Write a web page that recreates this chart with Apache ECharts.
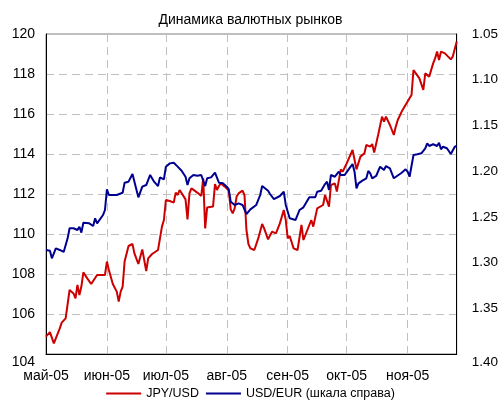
<!DOCTYPE html>
<html>
<head>
<meta charset="utf-8">
<script src="https://cdn.jsdelivr.net/npm/echarts@6/dist/echarts.min.js"></script>
<style>html,body{margin:0;padding:0;background:#fff}#c{width:501px;height:401px}</style>
</head>
<body>
<div id="c"></div>
<script>
var jpyDates = ['2005-05-01','2005-05-03','2005-05-04','2005-05-05','2005-05-06','2005-05-07','2005-05-08','2005-05-09','2005-05-10','2005-05-11','2005-05-13','2005-05-14','2005-05-15','2005-05-16','2005-05-17','2005-05-18','2005-05-19','2005-05-20','2005-05-22','2005-05-24','2005-05-27','2005-05-29','2005-05-31','2005-06-01','2005-06-02','2005-06-04','2005-06-06','2005-06-07','2005-06-08','2005-06-09','2005-06-10','2005-06-12','2005-06-14','2005-06-15','2005-06-17','2005-06-19','2005-06-21','2005-06-22','2005-06-24','2005-06-27','2005-06-29','2005-06-30','2005-07-01','2005-07-03','2005-07-05','2005-07-06','2005-07-07','2005-07-08','2005-07-11','2005-07-12','2005-07-13','2005-07-14','2005-07-17','2005-07-19','2005-07-20','2005-07-21','2005-07-22','2005-07-25','2005-07-26','2005-07-27','2005-07-28','2005-07-29','2005-07-31','2005-08-02','2005-08-03','2005-08-04','2005-08-05','2005-08-06','2005-08-07','2005-08-09','2005-08-10','2005-08-11','2005-08-12','2005-08-13','2005-08-15','2005-08-17','2005-08-19','2005-08-20','2005-08-22','2005-08-24','2005-08-26','2005-08-28','2005-08-30','2005-08-31','2005-09-01','2005-09-02','2005-09-03','2005-09-04','2005-09-06','2005-09-08','2005-09-09','2005-09-13','2005-09-14','2005-09-16','2005-09-19','2005-09-20','2005-09-22','2005-09-23','2005-09-25','2005-09-26','2005-09-28','2005-09-29','2005-10-01','2005-10-04','2005-10-05','2005-10-06','2005-10-08','2005-10-10','2005-10-11','2005-10-13','2005-10-14','2005-10-15','2005-10-17','2005-10-19','2005-10-20','2005-10-21','2005-10-23','2005-10-25','2005-10-26','2005-10-27','2005-10-29','2005-11-01','2005-11-03','2005-11-04','2005-11-07','2005-11-09','2005-11-10','2005-11-12','2005-11-14','2005-11-15','2005-11-16','2005-11-17','2005-11-18','2005-11-20','2005-11-23','2005-11-24','2005-11-26'];
var jpyValues = [104.87,105.09,105.05,104.53,104.48,105.03,105.28,105.57,105.53,105.78,107.2,107.28,107.03,106.78,107.45,106.95,107.37,108.08,107.78,107.5,107.95,107.95,107.95,108.62,108.2,107.5,107.12,106.62,107.12,107.37,108.62,109.4,109.5,109.03,108.5,109.23,108.15,108.78,109.0,109.2,110.37,110.7,111.7,111.65,111.57,112.07,111.95,112.2,111.73,110.73,112.03,112.28,112.07,111.9,112.78,110.28,111.33,111.37,112.5,112.2,112.4,112.53,112.37,112.17,111.23,111.03,111.28,111.87,112.03,112.17,111.95,110.2,109.5,109.28,109.2,109.78,110.5,110.28,109.73,110.12,110.03,110.53,111.2,110.7,109.78,109.9,109.95,109.28,109.2,110.45,109.7,110.7,110.37,111.28,111.45,111.95,111.37,112.45,112.53,112.12,113.23,113.12,113.53,114.2,114.28,113.23,113.87,114.03,114.45,114.37,114.5,114.07,114.95,115.87,115.62,115.87,115.45,114.95,115.37,115.7,116.12,116.62,116.95,118.2,117.78,117.2,118.03,117.87,118.53,118.78,119.12,118.7,119.12,119.03,118.73,118.87,119.62];

var eurDates = ['2005-05-01','2005-05-03','2005-05-04','2005-05-05','2005-05-06','2005-05-08','2005-05-10','2005-05-12','2005-05-13','2005-05-15','2005-05-17','2005-05-18','2005-05-19','2005-05-20','2005-05-23','2005-05-25','2005-05-26','2005-05-27','2005-05-30','2005-05-31','2005-06-01','2005-06-02','2005-06-03','2005-06-06','2005-06-07','2005-06-09','2005-06-10','2005-06-12','2005-06-13','2005-06-14','2005-06-15','2005-06-17','2005-06-19','2005-06-21','2005-06-22','2005-06-23','2005-06-25','2005-06-27','2005-06-28','2005-06-30','2005-07-01','2005-07-03','2005-07-05','2005-07-07','2005-07-09','2005-07-11','2005-07-12','2005-07-13','2005-07-15','2005-07-17','2005-07-19','2005-07-20','2005-07-21','2005-07-22','2005-07-24','2005-07-26','2005-07-28','2005-07-30','2005-08-01','2005-08-02','2005-08-03','2005-08-05','2005-08-07','2005-08-09','2005-08-11','2005-08-13','2005-08-16','2005-08-18','2005-08-19','2005-08-22','2005-08-23','2005-08-25','2005-08-28','2005-08-30','2005-08-31','2005-09-02','2005-09-03','2005-09-05','2005-09-07','2005-09-09','2005-09-10','2005-09-12','2005-09-13','2005-09-15','2005-09-16','2005-09-18','2005-09-20','2005-09-21','2005-09-22','2005-09-23','2005-09-25','2005-09-26','2005-09-27','2005-09-28','2005-09-30','2005-10-02','2005-10-03','2005-10-04','2005-10-05','2005-10-06','2005-10-07','2005-10-09','2005-10-11','2005-10-12','2005-10-13','2005-10-14','2005-10-16','2005-10-17','2005-10-18','2005-10-20','2005-10-21','2005-10-23','2005-10-25','2005-10-26','2005-10-29','2005-10-31','2005-11-01','2005-11-02','2005-11-04','2005-11-06','2005-11-08','2005-11-10','2005-11-11','2005-11-12','2005-11-13','2005-11-14','2005-11-16','2005-11-17','2005-11-18','2005-11-19','2005-11-21','2005-11-22','2005-11-23','2005-11-24','2005-11-25','2005-11-26'];
var eurValues = [1.2862,1.287,1.2953,1.296,1.2844,1.2862,1.2884,1.2735,1.2625,1.2625,1.2644,1.2608,1.2673,1.2564,1.2571,1.26,1.2516,1.2571,1.248,1.2425,1.2199,1.2261,1.2242,1.2261,1.228,1.2236,1.2126,1.2115,1.2108,1.2031,1.2115,1.2286,1.217,1.2152,1.217,1.2042,1.2115,1.2163,1.2068,1.2089,1.1951,1.1915,1.1908,1.1951,1.1995,1.2061,1.2152,1.2078,1.2042,1.205,1.2042,1.2053,1.2163,1.2078,1.2068,1.2017,1.2126,1.2133,1.217,1.2199,1.2334,1.237,1.2352,1.237,1.2469,1.2418,1.237,1.2261,1.2163,1.2214,1.225,1.2305,1.2272,1.2225,1.237,1.2516,1.2527,1.2534,1.2425,1.2396,1.2407,1.2286,1.2272,1.2286,1.2225,1.2214,1.2141,1.2115,1.2206,1.2042,1.2061,1.2068,1.2006,1.2042,1.2042,1.198,1.1951,1.1922,1.2006,1.2188,1.2133,1.2104,1.2078,1.1998,1.2024,1.2078,1.2053,1.2042,1.1951,1.1988,1.1944,1.1969,1.2078,1.2061,1.2017,1.198,1.2006,1.2061,1.1823,1.1816,1.1805,1.175,1.1696,1.1725,1.1714,1.1706,1.1725,1.1689,1.1761,1.1733,1.175,1.1739,1.1813,1.1813,1.1733,1.1725];

var monthStarts = ['2005-05-01','2005-06-01','2005-07-01','2005-08-01','2005-09-01','2005-10-01','2005-11-01'];
var monthLabels = ['май-05','июн-05','июл-05','авг-05','сен-05','окт-05','ноя-05'];
var xRange = ['2005-05-01', '2005-11-26'];
var leftTicks = [104, 106, 108, 110, 112, 114, 116, 118, 120];
var rightTicks = [1.05, 1.10, 1.15, 1.20, 1.25, 1.30, 1.35, 1.40];
var titleText = 'Динамика валютных рынков';
var seriesNames = ['JPY/USD', 'USD/EUR (шкала справа)'];

function ts(s) { var p = s.split('-'); return Date.UTC(+p[0], +p[1] - 1, +p[2]); }
var monthTs = monthStarts.map(ts);
var font = 'Liberation Sans, Arial, sans-serif';
var gridLine = {show: true, lineStyle: {color: '#c0c0c0', type: [8, 5], width: 1}};
var lowRichL = {low: {padding: [16, 0, 0, 0], fontFamily: font, fontSize: 14, color: '#000'}};
var lowRichR = {low: {padding: [16, 0, 0, 0], fontFamily: font, fontSize: 13.5, color: '#000'}};

var chart = echarts.init(document.getElementById('c'), null, {renderer: 'canvas'});
chart.setOption({
  animation: false,
  backgroundColor: '#fff',
  title: {text: titleText, left: 'center', top: 8, textStyle: {fontFamily: font, fontSize: 14, fontWeight: 'normal', color: '#000'}},
  legend: {bottom: -4, left: 'center', itemGap: 7, itemWidth: 35, itemHeight: 2, icon: 'rect',
    textStyle: {fontFamily: font, fontSize: 12.5, color: '#000'},
    data: seriesNames},
  grid: {left: 46, right: 40, top: 34, bottom: 47, show: true, borderColor: '#808080', borderWidth: 1},
  xAxis: {
    type: 'value',
    min: ts(xRange[0]), max: ts(xRange[1]),
    axisLine: {show: true, onZero: false, lineStyle: {color: '#000', width: 1}},
    axisTick: {show: false, customValues: monthTs},
    axisLabel: {customValues: monthTs, margin: 15, fontFamily: font, fontSize: 14, color: '#000',
      formatter: function (v) { var i = monthTs.indexOf(v); return i >= 0 ? monthLabels[i] : ''; }},
    splitLine: gridLine
  },
  yAxis: [{
    type: 'value', min: leftTicks[0], max: leftTicks[leftTicks.length - 1], interval: 2,
    position: 'left',
    axisLine: {show: true, lineStyle: {color: '#000'}},
    axisTick: {show: false},
    axisLabel: {margin: 11, fontFamily: font, fontSize: 14, color: '#000', rich: lowRichL,
      formatter: function (v) { return v === leftTicks[0] ? '{low|' + v + '}' : String(v); }},
    splitLine: gridLine
  }, {
    type: 'value', min: rightTicks[0], max: rightTicks[rightTicks.length - 1], interval: 0.05,
    inverse: true, position: 'right',
    axisLine: {show: true, lineStyle: {color: '#000'}},
    axisTick: {show: false},
    axisLabel: {margin: 15, fontFamily: font, fontSize: 13.5, color: '#000', rich: lowRichR,
      formatter: function (v) { var s = v.toFixed(2); return Math.abs(v - rightTicks[rightTicks.length - 1]) < 1e-9 ? '{low|' + s + '}' : s; }},
    splitLine: {show: false}
  }],
  series: [{
    name: seriesNames[0], type: 'line', yAxisIndex: 0, symbol: 'none', color: '#cc0000',
    lineStyle: {width: 2, color: '#cc0000'},
    data: jpyDates.map(function (d, i) { return [ts(d), jpyValues[i]]; })
  }, {
    name: seriesNames[1], type: 'line', yAxisIndex: 1, symbol: 'none', color: '#000090',
    lineStyle: {width: 2, color: '#000090'},
    data: eurDates.map(function (d, i) { return [ts(d), eurValues[i]]; })
  }]
});
</script>
</body>
</html>
